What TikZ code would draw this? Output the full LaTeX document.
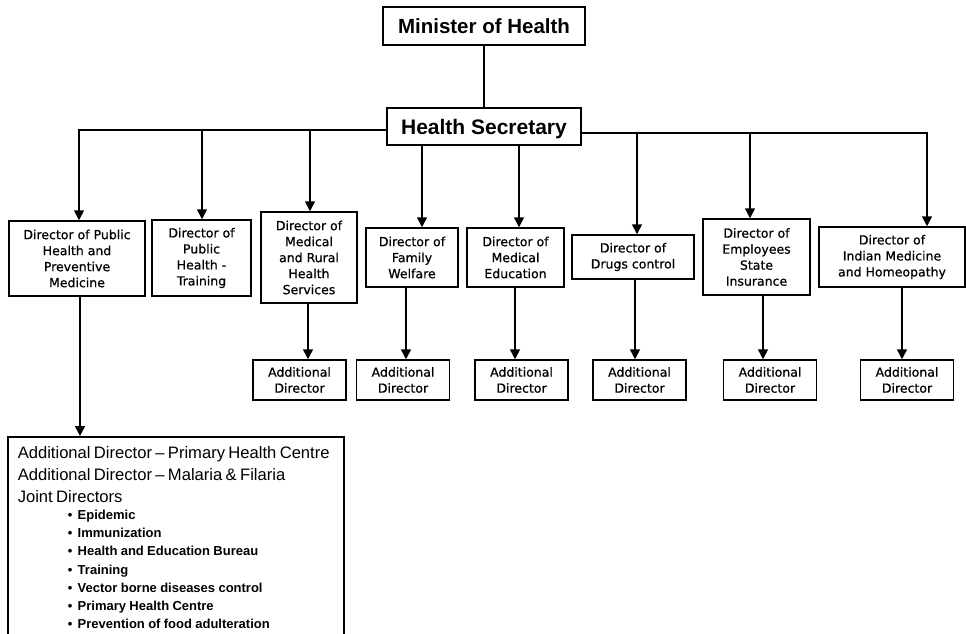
\documentclass[tikz,border=0pt]{standalone}
\usepackage{fontspec}
\setmainfont{Liberation Sans}
\newfontfamily\boxfont{DejaVu Sans}[RawFeature={embolden=0.7}]
\usetikzlibrary{arrows.meta}
\begin{document}
\begin{tikzpicture}[x=1pt,y=-1pt,
  box/.style={draw, line width=1.5pt, inner sep=0pt, align=center},
  head/.style={box, font=\bfseries\fontsize{20.5}{24}\selectfont, text depth=0pt},
  dir/.style={box, font=\boxfont\fontsize{12.5}{16}\selectfont},
  addl/.style={box, font=\boxfont\fontsize{12.5}{16}\selectfont, minimum width=93pt, minimum height=40pt},
  link/.style={line width=1.5pt},
  arr/.style={link, -{Triangle[width=10pt,length=10pt]}}]
\useasboundingbox (0,0) rectangle (966,634);
\clip (0,0) rectangle (966,634);

% top of the hierarchy
\node[head, minimum width=202pt, minimum height=38pt] (min) at (484,26) {Minister of Health};
\node[head, font=\bfseries\fontsize{21}{24}\selectfont, minimum width=194pt, minimum height=37pt] (sec) at (484,126.5) {Health Secretary};

% directors
\node[dir, minimum width=136pt, minimum height=75pt] (d1) at (77,258.5) {Director of Public\\Health and\\Preventive\\Medicine};
\node[dir, minimum width=99pt, minimum height=76pt] (d2) at (201.5,258) {Director of\\Public\\Health -\\Training};
\node[dir, minimum width=96pt, minimum height=91pt] (d3) at (309,257.5) {Director of\\Medical\\and Rural\\Health\\Services};
\node[dir, minimum width=92pt, minimum height=59pt] (d4) at (412,257.5) {Director of\\Family\\Welfare};
\node[dir, minimum width=97pt, minimum height=59pt] (d5) at (515.5,257.5) {Director of\\Medical\\Education};
\node[dir, minimum width=122pt, minimum height=44pt] (d6) at (633,257) {Director of\\Drugs control};
\node[dir, minimum width=107pt, minimum height=76pt] (d7) at (756.5,257) {Director of\\Employees\\State\\Insurance};
\node[dir, minimum width=146pt, minimum height=60pt] (d8) at (892,257) {Director of\\Indian Medicine\\and Homeopathy};

% additional directors
\node[addl] (a3) at (299.5,380) {Additional\\Director};
\node[addl] (a4) at (403,380) {Additional\\Director};
\node[addl] (a5) at (521.5,380) {Additional\\Director};
\node[addl] (a6) at (639.5,380) {Additional\\Director};
\node[addl] (a7) at (770,380) {Additional\\Director};
\node[addl] (a8) at (907,380) {Additional\\Director};

% public health and preventive medicine units
\node[box, anchor=north west, inner xsep=10pt, inner ysep=10pt, text width=316pt, align=left] (ph) at (7,436) {%
  \parindent=0pt
  {\fontsize{16.6}{22}\selectfont
   Additional Director -- Primary Health Centre\par
   Additional Director -- Malaria \& Filaria\par
   Joint Directors\par}
  \vspace{-1.4pt}
  {\fontsize{13}{18.2}\bfseries\selectfont\leftskip=50pt
   \makebox[10pt][l]{•}Epidemic\par
   \makebox[10pt][l]{•}Immunization\par
   \makebox[10pt][l]{•}Health and Education Bureau\par
   \makebox[10pt][l]{•}Training\par
   \makebox[10pt][l]{•}Vector borne diseases control\par
   \makebox[10pt][l]{•}Primary Health Centre\par
   \makebox[10pt][l]{•}Prevention of food adulteration\par}};

% minister to secretary
\draw[link] (min) -- (sec);

% left distribution line
\coordinate (busL) at (79,130);
\coordinate (b2) at (202,130);
\coordinate (b3) at (310,130);
\draw[arr] (sec.west |- busL) -- (busL) -- (busL |- d1.north);
\draw[arr] (b2) -- (b2 |- d2.north);
\draw[arr] (b3) -- (b3 |- d3.north);

% straight down from the secretary
\coordinate (b4) at (422,0);
\coordinate (b5) at (519,0);
\draw[arr] (b4 |- sec.south) -- (b4 |- d4.north);
\draw[arr] (b5 |- sec.south) -- (b5 |- d5.north);

% right distribution line
\coordinate (busR) at (927,133);
\coordinate (b6) at (637,133);
\coordinate (b7) at (750,133);
\draw[arr] (sec.east |- busR) -- (busR) -- (busR |- d8.north);
\draw[arr] (b6) -- (b6 |- d6.north);
\draw[arr] (b7) -- (b7 |- d7.north);

% directors to their additional directors
\coordinate (l1) at (80,0);
\coordinate (l3) at (308,0);
\coordinate (l4) at (406,0);
\coordinate (l5) at (515,0);
\coordinate (l6) at (635,0);
\coordinate (l7) at (763,0);
\coordinate (l8) at (902,0);
\draw[arr] (l1 |- d1.south) -- (l1 |- ph.north);
\draw[arr] (l3 |- d3.south) -- (l3 |- a3.north);
\draw[arr] (l4 |- d4.south) -- (l4 |- a4.north);
\draw[arr] (l5 |- d5.south) -- (l5 |- a5.north);
\draw[arr] (l6 |- d6.south) -- (l6 |- a6.north);
\draw[arr] (l7 |- d7.south) -- (l7 |- a7.north);
\draw[arr] (l8 |- d8.south) -- (l8 |- a8.north);
\end{tikzpicture}
\end{document}
